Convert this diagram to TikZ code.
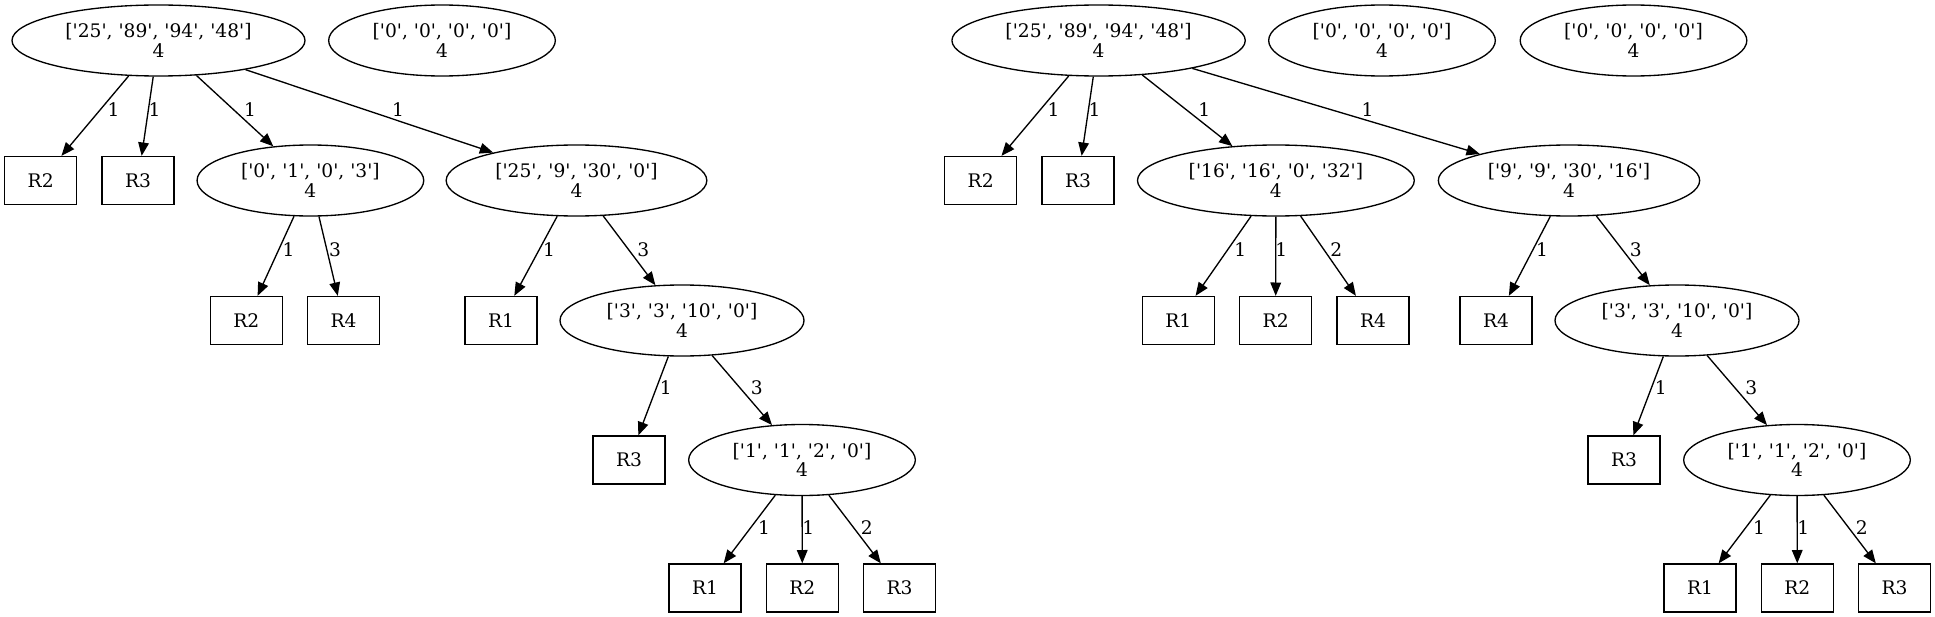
\documentclass[tikz,border=0pt]{standalone}
\usepackage{fontspec}
\setmainfont{DejaVu Serif}[Ligatures=TeXOff]
\usetikzlibrary{positioning,arrows.meta,shapes.geometric}

\tikzset{
	split/.style={draw, ellipse, inner sep=0pt, minimum height=53.25pt, align=center,
		font=\fontsize{14pt}{14.5pt}\selectfont},
	leaf/.style={draw, rectangle, inner sep=0pt, minimum width=54pt, minimum height=36pt,
		font=\fontsize{14pt}{16pt}\selectfont},
	branch/.style={-{Triangle[length=10pt,width=8pt]}},
	weight/.style={inner sep=0pt, font=\fontsize{14pt}{16pt}\selectfont},
}

\begin{document}
\begin{tikzpicture}[x=0.75pt, y=-0.75pt, line width=1pt]
	\useasboundingbox (0,0) rectangle (1935,617);
	% left tree
	\node[split, minimum width=219.75pt] (a0) at (158.5,40.5) {['25', '89', '94', '48']\\4};
	\node[split, minimum width=170pt] (z1) at (442,40.5) {['0', '0', '0', '0']\\4};
	\node[leaf] (a1) at (40.7,180.5) {R2};
	\node[leaf, right=18pt of a1] (a2) {R3};
	\node[split, minimum width=170pt] (a3) at (310.4,180.5) {['0', '1', '0', '3']\\4};
	\node[split, minimum width=195.5pt] (a4) at (576.5,180.5) {['25', '9', '30', '0']\\4};
	\node[leaf] (a5) at (246.3,320.5) {R2};
	\node[leaf, right=18pt of a5] (a6) {R4};
	\node[leaf] (a7) at (501,320.5) {R1};
	\node[split, minimum width=183pt] (a8) at (682,320.5) {['3', '3', '10', '0']\\4};
	\node[leaf] (a9) at (629,460) {R3};
	\node[split, minimum width=170pt] (a10) at (802,460) {['1', '1', '2', '0']\\4};
	\node[leaf] (a12) at (802.3,588) {R2};
	\node[leaf, left=18pt of a12] (a11) {R1};
	\node[leaf, right=18pt of a12] (a13) {R3};

	\draw[branch] (a0) -- (a1) node[weight] at (113.6,110) {1};
	\draw[branch] (a0) -- (a2) node[weight] at (154.6,110) {1};
	\draw[branch] (a0) -- (a3) node[weight] at (250,110) {1};
	\draw[branch] (a0) -- (a4) node[weight] at (398,110) {1};
	\draw[branch] (a3) -- (a5) node[weight] at (288.5,250) {1};
	\draw[branch] (a3) -- (a6) node[weight] at (335,250) {3};
	\draw[branch] (a4) -- (a7) node[weight] at (549.1,250) {1};
	\draw[branch] (a4) -- (a8) node[weight] at (643.2,250) {3};
	\draw[branch] (a8) -- (a9) node[weight] at (665.7,388) {1};
	\draw[branch] (a8) -- (a10) node[weight] at (756.7,388) {3};
	\draw[branch] (a10) -- (a11) node[weight] at (764,528) {1};
	\draw[branch] (a10) -- (a12) node[weight] at (808.3,528) {1};
	\draw[branch] (a10) -- (a13) node[weight] at (866.7,528) {2};

	% right tree
	\node[split, minimum width=220pt] (b0) at (1098.6,40.5) {['25', '89', '94', '48']\\4};
	\node[split, minimum width=170pt] (z2) at (1382,40.5) {['0', '0', '0', '0']\\4};
	\node[split, minimum width=170pt] (z3) at (1633.5,40.5) {['0', '0', '0', '0']\\4};
	\node[leaf] (b1) at (980.7,180.5) {R2};
	\node[leaf, right=18pt of b1] (b2) {R3};
	\node[split, minimum width=207.6pt] (b3) at (1275.9,180.5) {['16', '16', '0', '32']\\4};
	\node[split, minimum width=196pt] (b4) at (1569,180.5) {['9', '9', '30', '16']\\4};
	\node[leaf] (b6) at (1275.7,320.5) {R2};
	\node[leaf, left=18pt of b6] (b5) {R1};
	\node[leaf, right=18pt of b6] (b7) {R4};
	\node[leaf] (b8) at (1496,320.5) {R4};
	\node[split, minimum width=183pt] (b9) at (1677,320.5) {['3', '3', '10', '0']\\4};
	\node[leaf] (b10) at (1624,460) {R3};
	\node[split, minimum width=170pt] (b11) at (1797,460) {['1', '1', '2', '0']\\4};
	\node[leaf] (b13) at (1797.3,588) {R2};
	\node[leaf, left=18pt of b13] (b12) {R1};
	\node[leaf, right=18pt of b13] (b14) {R3};

	\draw[branch] (b0) -- (b1) node[weight] at (1053.6,110) {1};
	\draw[branch] (b0) -- (b2) node[weight] at (1094.6,110) {1};
	\draw[branch] (b0) -- (b3) node[weight] at (1204.3,110) {1};
	\draw[branch] (b0) -- (b4) node[weight] at (1367.5,110) {1};
	\draw[branch] (b3) -- (b5) node[weight] at (1240.4,250) {1};
	\draw[branch] (b3) -- (b6) node[weight] at (1281.4,250) {1};
	\draw[branch] (b3) -- (b7) node[weight] at (1336.4,250) {2};
	\draw[branch] (b4) -- (b8) node[weight] at (1542.1,250) {1};
	\draw[branch] (b4) -- (b9) node[weight] at (1635.7,250) {3};
	\draw[branch] (b9) -- (b10) node[weight] at (1660.7,388) {1};
	\draw[branch] (b9) -- (b11) node[weight] at (1751.2,388) {3};
	\draw[branch] (b11) -- (b12) node[weight] at (1759,528) {1};
	\draw[branch] (b11) -- (b13) node[weight] at (1803.3,528) {1};
	\draw[branch] (b11) -- (b14) node[weight] at (1861.7,528) {2};
\end{tikzpicture}
\end{document}
